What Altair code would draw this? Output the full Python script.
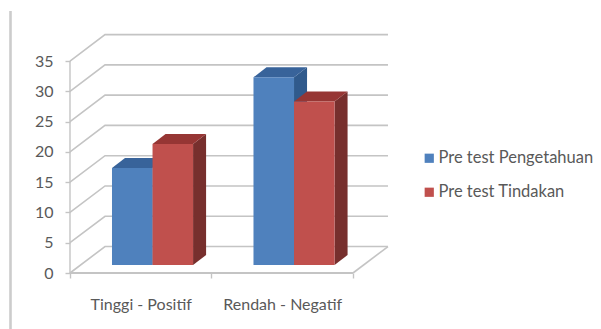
import altair as alt
import pandas as pd

categories = ["Tinggi - Positif", "Rendah - Negatif"]
series_names = ["Pre test Pengetahuan", "Pre test Tindakan"]
series_values = [[16, 31], [20, 27]]
tick_values = [0, 5, 10, 15, 20, 25, 30, 35]

front_colors = ["#4f81bd", "#c0504d"]
top_colors = ["#38639a", "#963634"]
side_colors = ["#305a8c", "#772f2d"]
line_color = "#c4c4c4"
text_color = "#595959"
font = "Lato"

# Oblique projection: x is in category widths, y in value units.
WALL_DX, WALL_DY = 0.2475, 4.37     # floor depth
BAR_DX, BAR_DY = 0.0743, 1.32       # gap between the front edge and the bars
SIDE_DX, SIDE_DY = 0.092, 1.65      # bar depth
BAR_W = 0.2865
GROUP_START = 0.2225
X_MAX = 2 + WALL_DX
Y_MAX = 39.3

x_scale = alt.Scale(domain=[0, X_MAX], nice=False, zero=False)
y_scale = alt.Scale(domain=[0, Y_MAX], nice=False, zero=False)
x_q = alt.X("x:Q", scale=x_scale, axis=None)
y_q = alt.Y("y:Q", scale=y_scale, axis=None, stack=None)

# Wall gridlines and floor outline
grid_rows = []
for v in tick_values:
    grid_rows += [
        {"key": v, "o": 0, "x": 0, "y": v},
        {"key": v, "o": 1, "x": WALL_DX, "y": v + WALL_DY},
        {"key": v, "o": 2, "x": X_MAX, "y": v + WALL_DY},
    ]
grid_rows += [
    {"key": "floor", "o": 0, "x": 2, "y": 0},
    {"key": "floor", "o": 1, "x": X_MAX, "y": WALL_DY},
]
grid = alt.Chart(pd.DataFrame(grid_rows)).mark_line(color=line_color, strokeWidth=1.6).encode(
    x=x_q, y=y_q, detail="key:N", order="o:Q"
)

# Left edge of the y axis and the front edge of the floor
y_edge = alt.Chart(pd.DataFrame({"x": [0], "y": [0], "y2": [max(tick_values)]})).mark_rule(
    color=line_color, strokeWidth=1.4
).encode(x=x_q, y=y_q, y2="y2:Q")
x_edge = alt.Chart(pd.DataFrame({"x": [0], "x2": [2], "y": [0]})).mark_rule(
    color=line_color, strokeWidth=1.8
).encode(x=x_q, x2="x2:Q", y=y_q)

# Axes carry the ticks and labels only
label_expr = f"datum.value === 0.5 ? '{categories[0]}' : datum.value === 1.5 ? '{categories[1]}' : ''"
axes = alt.Chart(pd.DataFrame({"x": [0], "y": [0]})).mark_point(opacity=0).encode(
    x=alt.X("x:Q", scale=x_scale, axis=alt.Axis(
        values=[0, 0.5, 1, 1.5, 2], domain=False, grid=False, title=None,
        tickColor=line_color, tickSize=5, tickWidth=1.4,
        tickOpacity=alt.expr("datum.value % 1 === 0 ? 1 : 0"),
        labelExpr=label_expr, labelFont=font, labelFontSize=16,
        labelColor=text_color, labelPadding=18, labelAngle=0, labelOverlap=False,
    )),
    y=alt.Y("y:Q", scale=y_scale, axis=alt.Axis(
        values=tick_values, domain=False, grid=False, title=None,
        tickColor=line_color, tickSize=5, tickWidth=1.4,
        labelFont=font, labelFontSize=16, labelColor=text_color, labelPadding=12,
    )),
)

# Bars: one side face, top face and front face per bar
layers = [axes, grid, y_edge, x_edge]
for s, (name, values) in enumerate(zip(series_names, series_values)):
    side_rows, top_rows, front_rows = [], [], []
    for c, v in enumerate(values):
        x0 = c + GROUP_START + BAR_DX + s * BAR_W
        x1 = x0 + BAR_W
        b = BAR_DY
        t = v + BAR_DY
        side_rows += [
            {"bar": c, "x": x1, "y": t, "y2": b},
            {"bar": c, "x": x1 + SIDE_DX, "y": t + SIDE_DY, "y2": b + SIDE_DY},
        ]
        top_rows += [
            {"bar": c, "x": x0, "y": t, "y2": t},
            {"bar": c, "x": x0 + SIDE_DX, "y": t + SIDE_DY, "y2": t},
            {"bar": c, "x": x1, "y": t + SIDE_DY, "y2": t},
            {"bar": c, "x": x1 + SIDE_DX, "y": t + SIDE_DY, "y2": t + SIDE_DY},
        ]
        front_rows.append({"series": name, "x": x0, "x2": x1, "y": t, "y2": b})
    layers.append(alt.Chart(pd.DataFrame(side_rows)).mark_area(
        orient="vertical", color=side_colors[s], line=False
    ).encode(x=x_q, y=y_q, y2="y2:Q", detail="bar:N"))
    layers.append(alt.Chart(pd.DataFrame(top_rows)).mark_area(
        orient="vertical", color=top_colors[s], line=False
    ).encode(x=x_q, y=y_q, y2="y2:Q", detail="bar:N"))
    layers.append(alt.Chart(pd.DataFrame(front_rows)).mark_rect().encode(
        x=x_q, x2="x2:Q", y=y_q, y2="y2:Q",
        color=alt.Color("series:N", scale=alt.Scale(domain=series_names, range=front_colors), legend=alt.Legend(
            orient="none", legendX=351, legendY=115, title=None, symbolType="square",
            symbolSize=85, symbolStrokeWidth=0, rowPadding=17, labelFont=font, labelFontSize=16.5,
            labelColor=text_color, labelOffset=1, labelLimit=220,
        )),
    ))

# Thin frame line down the left of the picture
frame = alt.Chart(pd.DataFrame({"x": [0]})).mark_rule(color="#cccccc", strokeWidth=2.6).encode(
    x=alt.value(-59.5), y=alt.value(-24), y2=alt.value(294)
)
layers.append(frame)

chart = alt.layer(*layers).resolve_axis(x="independent", y="independent").properties(
    width=318, height=238,
    padding={"left": 70, "top": 35, "right": 213, "bottom": 56},
    autosize=alt.AutoSizeParams(type="none"),
).configure_view(stroke=None)

chart.save("out.html", embed_options={"renderer": "svg", "actions": False})
